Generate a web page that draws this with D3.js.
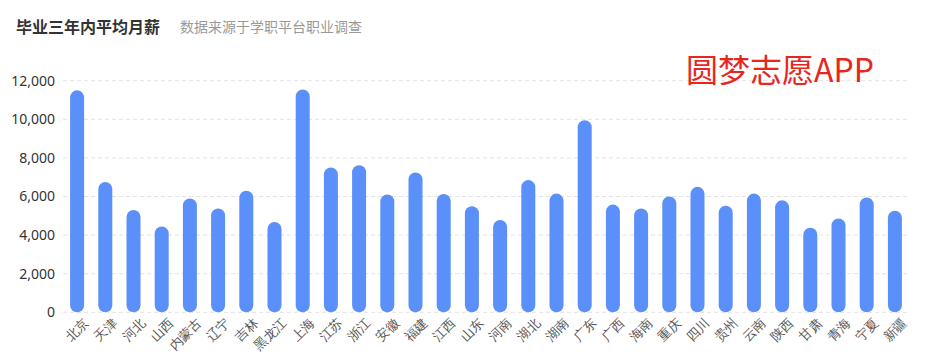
<!DOCTYPE html>
<html>
<head>
<meta charset="utf-8">
<script src="https://cdn.jsdelivr.net/npm/d3@7/dist/d3.min.js"></script>
<style>
  html, body { margin: 0; padding: 0; background: #fff; }
  svg { display: block; font-family: "Noto Sans CJK SC", "Noto Sans", sans-serif; }
</style>
</head>
<body>
<svg id="chart" width="931" height="360"></svg>
<script>
const categories = ["北京","天津","河北","山西","内蒙古","辽宁","吉林","黑龙江","上海","江苏","浙江","安徽","福建","江西","山东","河南","湖北","湖南","广东","广西","海南","重庆","四川","贵州","云南","陕西","甘肃","青海","宁夏","新疆"];
const salary = [11500,6750,5300,4450,5900,5380,6300,4680,11550,7500,7620,6100,7250,6130,5500,4780,6850,6150,9950,5580,5380,6000,6500,5520,6150,5800,4380,4860,5950,5260];
const yTicks = [0,2000,4000,6000,8000,10000,12000];
const titleText = "毕业三年内平均月薪";
const subtitleText = "数据来源于学职平台职业调查";
const watermarkText = "圆梦志愿APP";

const svg = d3.select("#chart");
const plotLeft = 63, plotRight = 909, plotTop = 80.7, plotBottom = 312.3;

const x = d3.scaleBand().domain(categories).range([plotLeft, plotRight]).padding(0);
const y = d3.scaleLinear().domain([0, 12000]).range([plotBottom, plotTop]);

// grid lines
svg.append("g").selectAll("line").data(yTicks).join("line")
  .attr("x1", plotLeft).attr("x2", plotRight + 1)
  .attr("y1", d => y(d)).attr("y2", d => y(d))
  .attr("stroke", "#e3e3e3").attr("stroke-width", 1)
  .attr("stroke-dasharray", "4,3");

// y axis labels
const yAxis = d3.axisLeft(y).tickValues(yTicks).tickSize(0).tickPadding(0)
  .tickFormat(d3.format(","));
const gy = svg.append("g").attr("transform", "translate(55,0)").call(yAxis);
gy.select(".domain").remove();
gy.selectAll("text").attr("fill", "#333").attr("font-size", 14)
  .attr("font-family", "'Noto Sans', sans-serif");

// bars
const bw = 14;
svg.append("g").selectAll("rect").data(salary).join("rect")
  .attr("x", (d, i) => x(categories[i]) + x.bandwidth() / 2 - bw / 2)
  .attr("y", d => y(d))
  .attr("width", bw)
  .attr("height", d => y(0) - y(d))
  .attr("rx", bw / 2).attr("ry", bw / 2)
  .attr("fill", "#5B8FF9");

// x labels
const xAxis = d3.axisBottom(x).tickSize(0).tickPadding(0);
const gx = svg.append("g").attr("transform", `translate(0,${plotBottom})`).call(xAxis);
gx.select(".domain").remove();
gx.selectAll("text")
  .attr("fill", "#555").attr("font-size", 13)
  .attr("text-anchor", "end")
  .attr("dy", null).attr("y", null)
  .attr("transform", "translate(12.5,11.5) rotate(-45)");

// title
svg.append("text").attr("x", 16).attr("y", 33)
  .attr("font-size", 16).attr("font-weight", "bold").attr("fill", "#333")
  .text(titleText);
svg.append("text").attr("x", 180).attr("y", 32)
  .attr("font-size", 14).attr("fill", "#999")
  .text(subtitleText);

// watermark
svg.append("text").attr("x", 686).attr("y", 82)
  .attr("font-size", 32).attr("fill", "#e8261e")
  .text(watermarkText);
</script>
</body>
</html>
